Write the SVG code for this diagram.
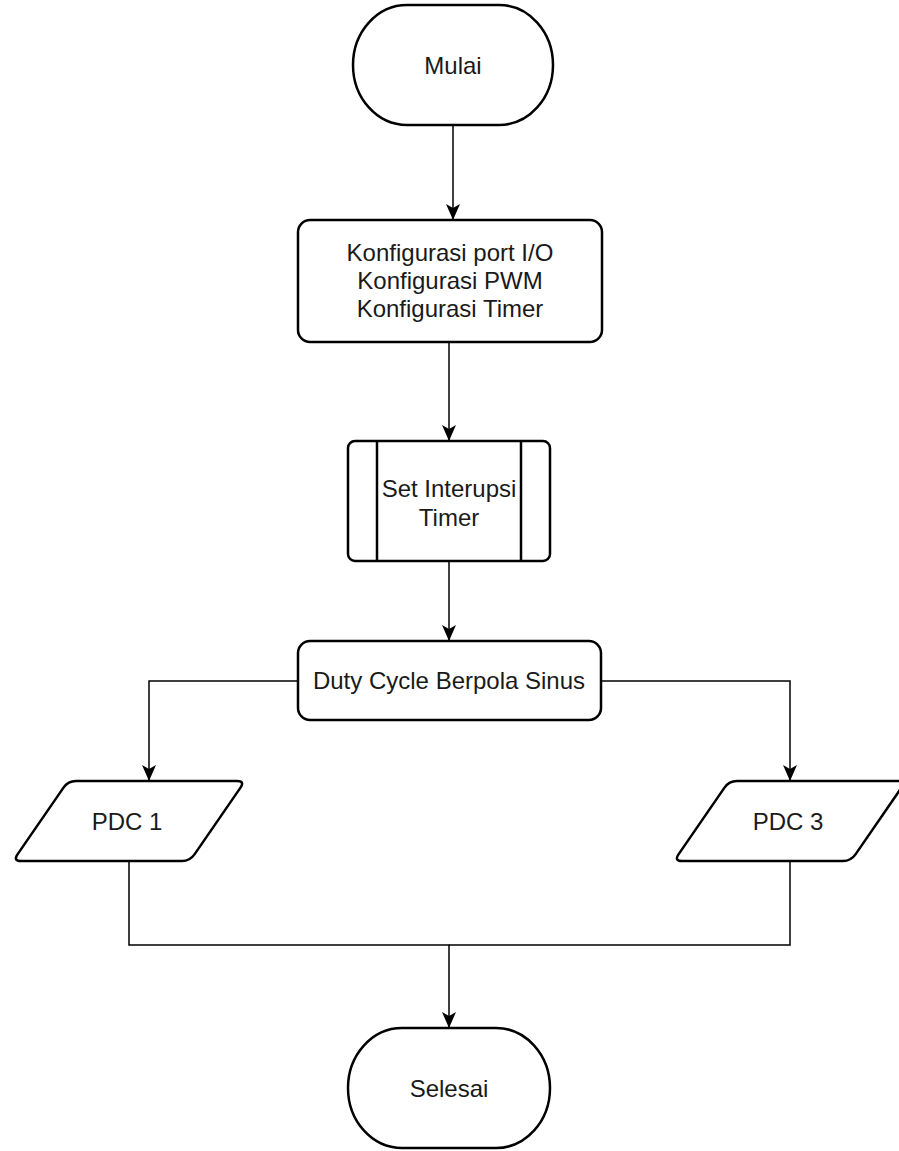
<svg xmlns="http://www.w3.org/2000/svg" width="899" height="1151" viewBox="0 0 899 1151">
<defs>
<style>
.node{fill:#fff;stroke:#000;stroke-width:2.5}
.conn{fill:none;stroke:#000;stroke-width:1.5}
.t{font-family:"Liberation Sans",Arial,sans-serif;font-size:24px;fill:#1a1a1a;text-anchor:middle}
</style>
<marker id="arr" markerUnits="userSpaceOnUse" viewBox="0 0 16 14" refX="15" refY="7" markerWidth="16" markerHeight="14" orient="auto">
<path d="M0,0 L16,7 L0,14 L4,7 Z" fill="#000"/>
</marker>
</defs>
<rect width="899" height="1151" fill="#fff"/>
<g id="connectors">
<path class="conn" d="M453,125 V219" marker-end="url(#arr)"/>
<path class="conn" d="M449,342 V440" marker-end="url(#arr)"/>
<path class="conn" d="M449,561 V640" marker-end="url(#arr)"/>
<path class="conn" d="M298,681 H149 V780" marker-end="url(#arr)"/>
<path class="conn" d="M601,681 H790 V780" marker-end="url(#arr)"/>
<path class="conn" d="M129,861 V945 H449 V1027" marker-end="url(#arr)"/>
<path class="conn" d="M790,861 V945 H449"/>
</g>
<g id="mulai">
<rect class="node" x="353" y="5" width="200" height="120" rx="54" ry="60"/>
<text class="t" x="453" y="74">Mulai</text>
</g>
<g id="konfigurasi">
<rect class="node" x="298" y="220" width="304" height="122" rx="12"/>
<text class="t" x="450" y="261">Konfigurasi port I/O</text>
<text class="t" x="450" y="289">Konfigurasi PWM</text>
<text class="t" x="450" y="317">Konfigurasi Timer</text>
</g>
<g id="interupsi">
<rect class="node" x="348" y="441" width="202" height="120" rx="7"/>
<line class="node" x1="377" y1="441" x2="377" y2="561"/>
<line class="node" x1="521" y1="441" x2="521" y2="561"/>
<text class="t" x="449" y="497">Set Interupsi</text>
<text class="t" x="449" y="526">Timer</text>
</g>
<g id="duty">
<rect class="node" x="298" y="641" width="303" height="79" rx="12"/>
<text class="t" x="449" y="689">Duty Cycle Berpola Sinus</text>
</g>
<g id="pdc1">
<path class="node" d="M76,781 L237,781 Q245,781 240.5,787.6 L194.5,854.4 Q190,861 182,861 L21,861 Q13,861 17.5,854.4 L63.5,787.6 Q68,781 76,781 Z"/>
<text class="t" x="127" y="830">PDC 1</text>
</g>
<g id="pdc3">
<path class="node" d="M737,781 L898,781 Q906,781 901.5,787.6 L855.5,854.4 Q851,861 843,861 L682,861 Q674,861 678.5,854.4 L724.5,787.6 Q729,781 737,781 Z"/>
<text class="t" x="788" y="830">PDC 3</text>
</g>
<g id="selesai">
<rect class="node" x="348" y="1028" width="202" height="120" rx="54" ry="60"/>
<text class="t" x="449" y="1097">Selesai</text>
</g>
</svg>
